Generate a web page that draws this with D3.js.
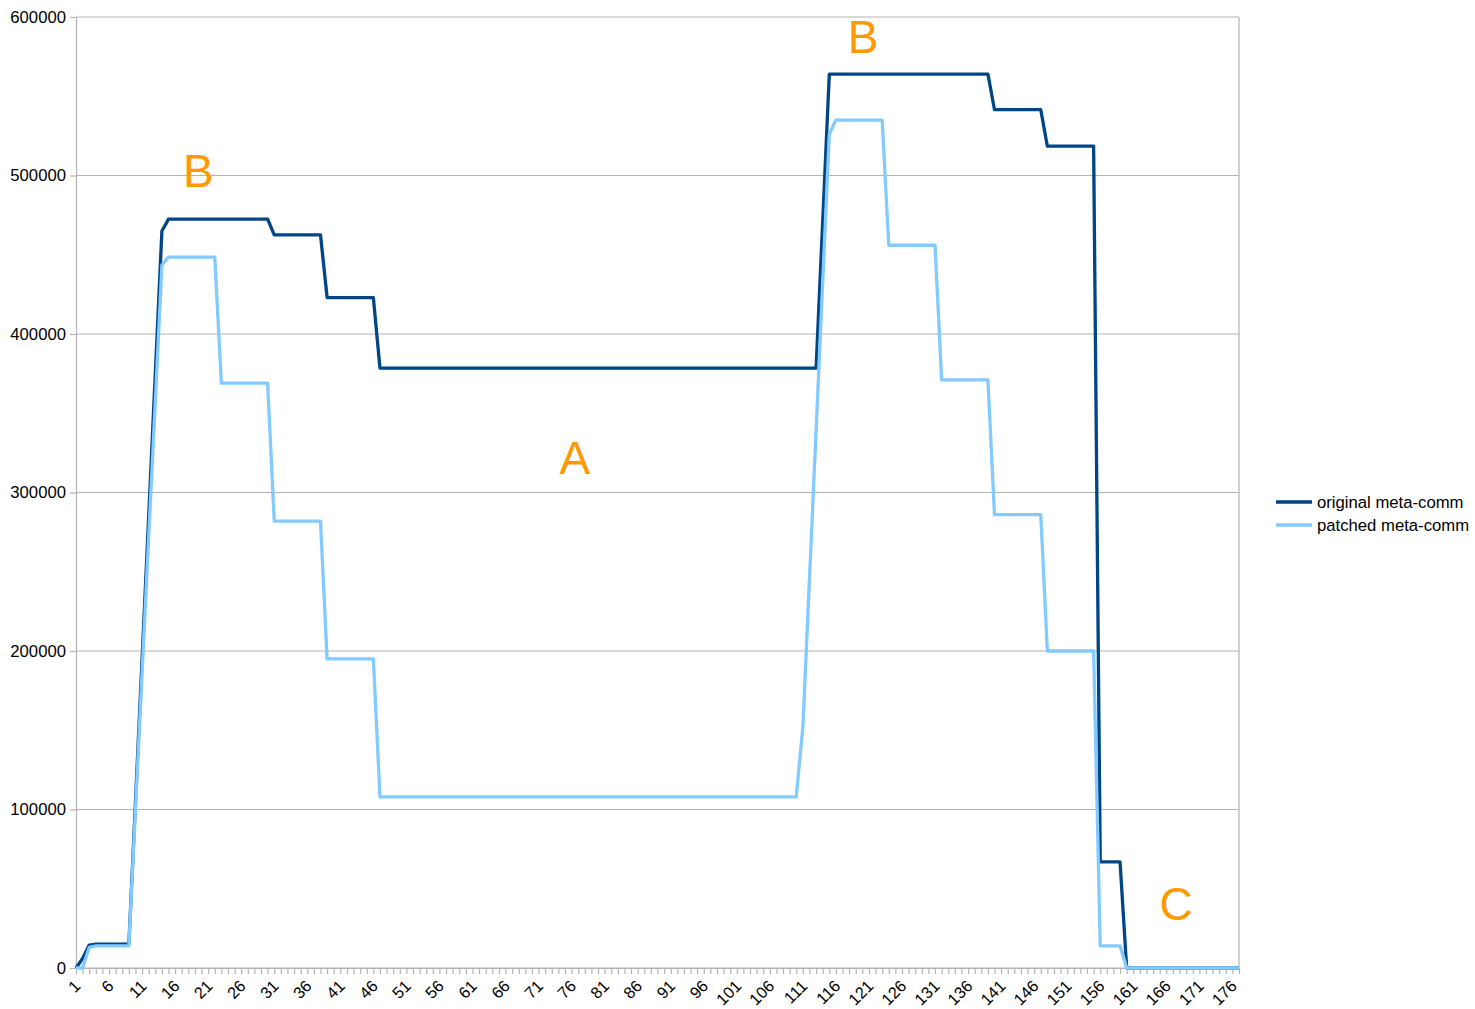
<!DOCTYPE html>
<html>
<head>
<meta charset="utf-8">
<script src="https://cdn.jsdelivr.net/npm/d3@7"></script>
<style>
  html, body { margin: 0; padding: 0; background: #ffffff; }
  svg { display: block; font-family: "Liberation Sans", Arial, sans-serif; }
</style>
</head>
<body>
<svg id="chart" width="1475" height="1009"></svg>
<script>
// ---------- data ----------
const seriesNames = ["original meta-comm", "patched meta-comm"];

const categories = [
  1,2,3,4,5,6,7,8,9,10,11,12,13,14,15,16,17,18,19,20,
  21,22,23,24,25,26,27,28,29,30,31,32,33,34,35,36,37,38,39,40,
  41,42,43,44,45,46,47,48,49,50,51,52,53,54,55,56,57,58,59,60,
  61,62,63,64,65,66,67,68,69,70,71,72,73,74,75,76,77,78,79,80,
  81,82,83,84,85,86,87,88,89,90,91,92,93,94,95,96,97,98,99,100,
  101,102,103,104,105,106,107,108,109,110,111,112,113,114,115,116,117,118,119,120,
  121,122,123,124,125,126,127,128,129,130,131,132,133,134,135,136,137,138,139,140,
  141,142,143,144,145,146,147,148,149,150,151,152,153,154,155,156,157,158,159,160,
  161,162,163,164,165,166,167,168,169,170,171,172,173,174,175,176,177
];

const xTickLabels = [1,6,11,16,21,26,31,36,41,46,51,56,61,66,71,76,81,86,91,96,101,106,111,116,121,126,131,136,141,146,151,156,161,166,171,176];
const yTickValues = [0,100000,200000,300000,400000,500000,600000];

const original = [
  0, 6000, 14500, 15000, 15000, 15000, 15000, 15000, 15000,          // 1-9
  105000, 195000, 285000, 375000, 465000,                             // 10-14
  472500, 472500, 472500, 472500, 472500, 472500, 472500, 472500,     // 15-22
  472500, 472500, 472500, 472500, 472500, 472500, 472500, 472500,     // 23-30
  462500, 462500, 462500, 462500, 462500, 462500, 462500, 462500,     // 31-38
  423000, 423000, 423000, 423000, 423000, 423000, 423000, 423000,     // 39-46
  378500, 378500, 378500, 378500, 378500, 378500, 378500, 378500, 378500, 378500, // 47-56
  378500, 378500, 378500, 378500, 378500, 378500, 378500, 378500, 378500, 378500, // 57-66
  378500, 378500, 378500, 378500, 378500, 378500, 378500, 378500, 378500, 378500, // 67-76
  378500, 378500, 378500, 378500, 378500, 378500, 378500, 378500, 378500, 378500, // 77-86
  378500, 378500, 378500, 378500, 378500, 378500, 378500, 378500, 378500, 378500, // 87-96
  378500, 378500, 378500, 378500, 378500, 378500, 378500, 378500, 378500, 378500, // 97-106
  378500, 378500, 378500, 378500, 378500, 378500, 378500,             // 107-113
  471000,                                                             // 114
  564000, 564000, 564000, 564000, 564000, 564000, 564000, 564000, 564000, 564000, // 115-124
  564000, 564000, 564000, 564000, 564000, 564000, 564000, 564000, 564000, 564000, // 125-134
  564000, 564000, 564000, 564000, 564000,                             // 135-139
  541500, 541500, 541500, 541500, 541500, 541500, 541500, 541500,     // 140-147
  518500, 518500, 518500, 518500, 518500, 518500, 518500, 518500,     // 148-155
  67000, 67000, 67000, 67000,                                         // 156-159
  0, 0, 0, 0, 0, 0, 0, 0, 0, 0, 0, 0, 0, 0, 0, 0, 0, 0                // 160-177
];

const patched = [
  0, 0, 13000, 14000, 14000, 14000, 14000, 14000, 14000,              // 1-9
  100000, 186000, 272000, 357000, 443500,                             // 10-14
  448500, 448500, 448500, 448500, 448500, 448500, 448500, 448500,     // 15-22
  369000, 369000, 369000, 369000, 369000, 369000, 369000, 369000,     // 23-30
  282000, 282000, 282000, 282000, 282000, 282000, 282000, 282000,     // 31-38
  195000, 195000, 195000, 195000, 195000, 195000, 195000, 195000,     // 39-46
  108000, 108000, 108000, 108000, 108000, 108000, 108000, 108000, 108000, 108000, // 47-56
  108000, 108000, 108000, 108000, 108000, 108000, 108000, 108000, 108000, 108000, // 57-66
  108000, 108000, 108000, 108000, 108000, 108000, 108000, 108000, 108000, 108000, // 67-76
  108000, 108000, 108000, 108000, 108000, 108000, 108000, 108000, 108000, 108000, // 77-86
  108000, 108000, 108000, 108000, 108000, 108000, 108000, 108000, 108000, 108000, // 87-96
  108000, 108000, 108000, 108000, 108000, 108000, 108000, 108000, 108000, 108000, // 97-106
  108000, 108000, 108000, 108000,                                     // 107-110
  152000, 245500, 339000, 432500, 526000,                             // 111-115
  535000, 535000, 535000, 535000, 535000, 535000, 535000, 535000,     // 116-123
  456000, 456000, 456000, 456000, 456000, 456000, 456000, 456000,     // 124-131
  371000, 371000, 371000, 371000, 371000, 371000, 371000, 371000,     // 132-139
  286000, 286000, 286000, 286000, 286000, 286000, 286000, 286000,     // 140-147
  200000, 200000, 200000, 200000, 200000, 200000, 200000, 200000,     // 148-155
  14000, 14000, 14000, 14000,                                         // 156-159
  0, 0, 0, 0, 0, 0, 0, 0, 0, 0, 0, 0, 0, 0, 0, 0, 0, 0                // 160-177
];

// annotation letters (category, value)
const noteLabels = ["B", "B", "A", "C"];
const noteCategories = [19.5, 120.1, 76.5, 167.5];
const noteValues = [503000, 587400, 321800, 40400];

// ---------- layout ----------
const colors = ["#004586", "#83caff"];
const plotLeft = 76, plotRight = 1239, plotTop = 17, plotBottom = 968;
const fontSize = 16.7;

const svg = d3.select("#chart");

const x = d3.scaleLinear().domain([1, categories.length]).range([plotLeft, plotRight]);
const y = d3.scaleLinear().domain([0, 600000]).range([plotBottom, plotTop]);

// gridlines
svg.append("g")
  .selectAll("line")
  .data(yTickValues)
  .join("line")
  .attr("x1", plotLeft).attr("x2", plotRight)
  .attr("y1", d => y(d)).attr("y2", d => y(d))
  .attr("stroke", "#b3b3b3").attr("stroke-width", 1.2);

// right border
svg.append("line")
  .attr("x1", plotRight).attr("x2", plotRight).attr("y1", plotTop).attr("y2", plotBottom)
  .attr("stroke", "#b3b3b3").attr("stroke-width", 1.2);

// y axis
const yAxis = d3.axisLeft(y).tickValues(yTickValues).tickSize(6).tickPadding(4).tickFormat(d3.format("d"));
const gy = svg.append("g").attr("transform", `translate(${plotLeft},0)`).call(yAxis);
gy.select(".domain").attr("stroke", "#b3b3b3").attr("stroke-width", 1.2);
gy.selectAll(".tick line").attr("stroke", "#b3b3b3").attr("stroke-width", 1.2);
gy.selectAll("text").attr("font-size", fontSize).attr("fill", "#000")
  .attr("font-family", "'Liberation Sans', Arial, sans-serif");

// x axis
const xAxis = d3.axisBottom(x).tickValues(categories).tickSize(6).tickSizeOuter(0)
  .tickFormat(d => xTickLabels.includes(d) ? String(d) : "");
const gx = svg.append("g").attr("transform", `translate(0,${plotBottom})`).call(xAxis);
gx.select(".domain").attr("stroke", "#b3b3b3").attr("stroke-width", 1.2);
gx.selectAll(".tick line").attr("stroke", "#b3b3b3").attr("stroke-width", 1.2);
gx.selectAll("text")
  .attr("font-size", 16.3).attr("fill", "#000")
  .attr("font-family", "'Liberation Sans', Arial, sans-serif")
  .attr("text-anchor", "end")
  .attr("dy", null)
  .attr("y", 0)
  .attr("transform", "translate(5,19) rotate(-45)");

// lines
const line = d3.line().x((d, i) => x(categories[i])).y(d => y(d));
[original, patched].forEach((s, k) => {
  svg.append("path")
    .datum(s)
    .attr("d", line)
    .attr("fill", "none")
    .attr("stroke", colors[k])
    .attr("stroke-width", 3.3)
    .attr("stroke-linejoin", "round");
});

// annotations
svg.append("g")
  .selectAll("text")
  .data(noteLabels)
  .join("text")
  .attr("x", (d, i) => x(noteCategories[i]))
  .attr("y", (d, i) => y(noteValues[i]))
  .attr("text-anchor", "middle")
  .attr("dominant-baseline", "central")
  .attr("font-size", 46)
  .attr("fill", "#ff9900")
  .text(d => d);

// legend
const lg = svg.append("g").attr("transform", "translate(1276,502)");
seriesNames.forEach((name, k) => {
  const g = lg.append("g").attr("transform", `translate(0,${k * 23})`);
  g.append("line").attr("x1", 0).attr("x2", 36).attr("y1", 0).attr("y2", 0)
    .attr("stroke", colors[k]).attr("stroke-width", 3.3);
  g.append("text").attr("x", 41).attr("y", 0).attr("dy", "0.35em")
    .attr("font-size", fontSize).attr("fill", "#000").text(name);
});
</script>
</body>
</html>
